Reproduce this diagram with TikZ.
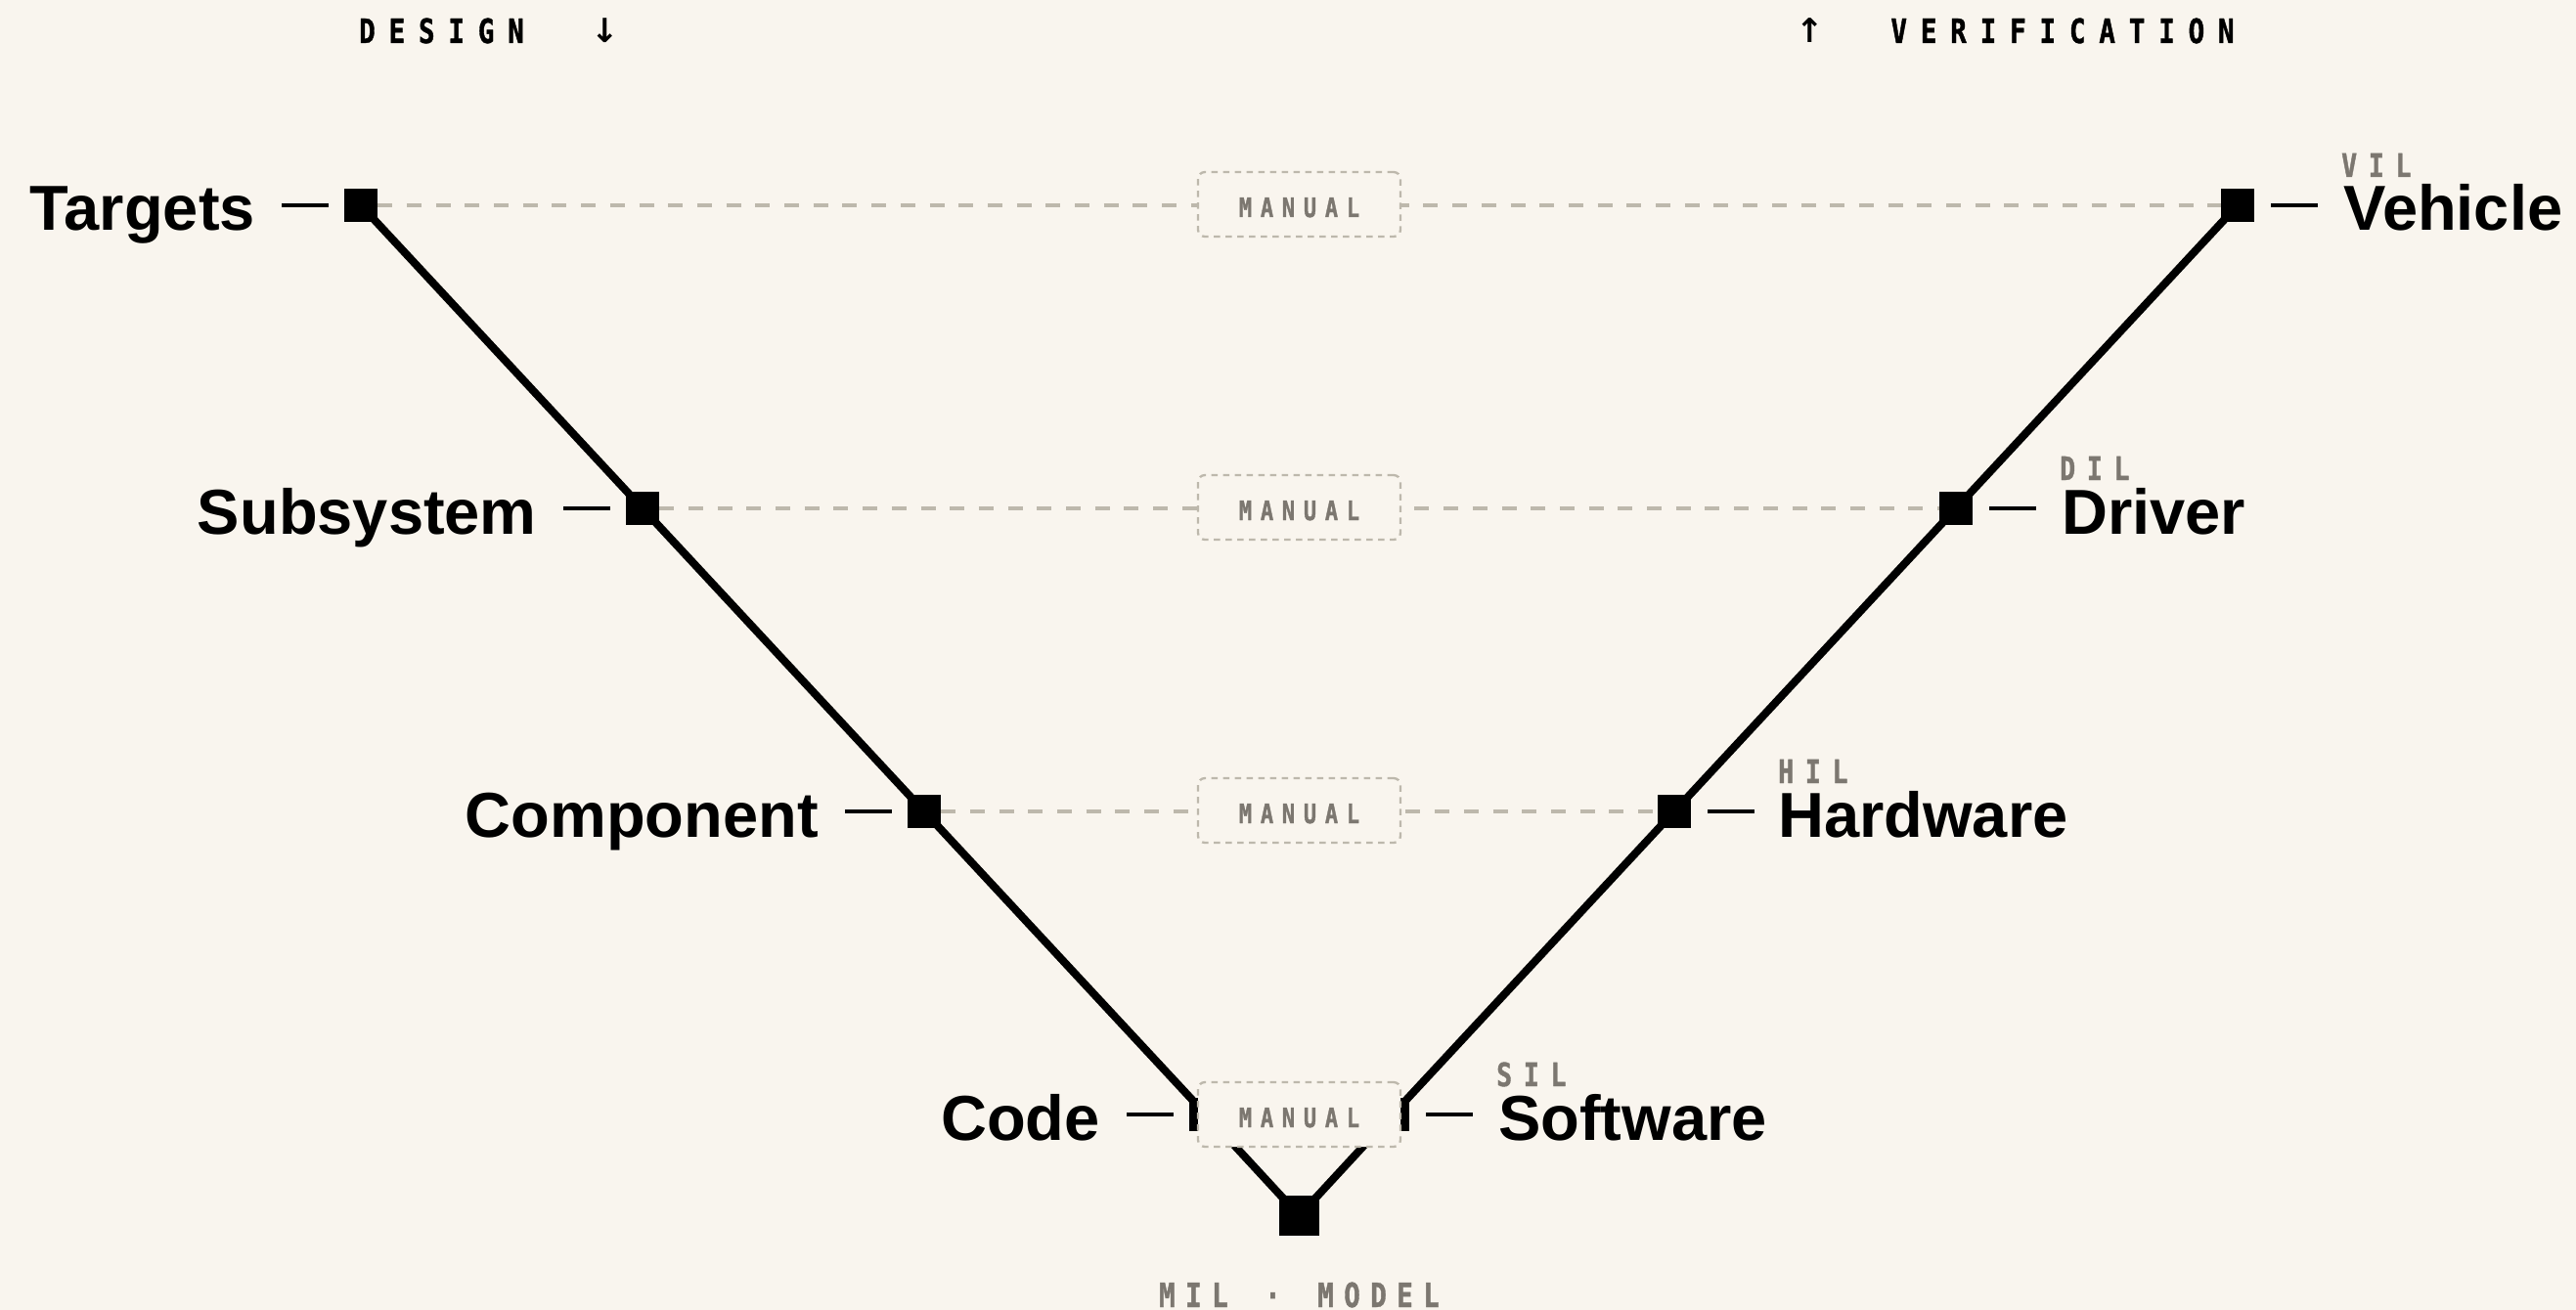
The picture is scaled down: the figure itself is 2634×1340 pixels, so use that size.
\documentclass[tikz,border=0pt]{standalone}
\usepackage{fontspec}
\setmainfont{Liberation Sans}
\newfontfamily\monob[FakeStretch=0.8, BoldFeatures={FakeBold=1.2}]{DejaVu Sans Mono}
\newfontfamily\arrowfont{DejaVu Sans}
\definecolor{bgc}{HTML}{F9F5EE}
\definecolor{dashc}{HTML}{BDB8AC}
\definecolor{tagc}{HTML}{7C7770}
\pgfdeclarelayer{back}
\pgfdeclarelayer{bg}
\pgfsetlayers{back,bg,main}
\makeatletter
\newcommand\trk[2]{\def\trk@k{#1}\trk@loop#2\trk@end}
\def\trk@end{\trk@end}
\def\trk@loop#1{\ifx#1\trk@end\kern-\trk@k\relax\else#1\kern\trk@k\relax\expandafter\trk@loop\fi}
\makeatother
\newcommand\darr{\makebox[16.5pt][c]{\arrowfont\bfseries\fontsize{34}{36}\selectfont ↓}}
\newcommand\uarr{\makebox[16.5pt][c]{\arrowfont\bfseries\fontsize{34}{36}\selectfont ↑}}
\begin{document}
\begin{tikzpicture}[x=1pt,y=-1pt,
  sq/.style={rectangle, fill=black, inner sep=0pt, minimum size=34pt},
  sqbig/.style={sq, minimum size=41pt},
  vline/.style={line width=8pt, black},
  dashline/.style={line width=3.3pt, dashc, dash pattern=on 15pt off 14.7pt},
  tickline/.style={line width=3.3pt, black},
  lbl/.style={inner sep=0pt, font=\fontsize{65}{70}\selectfont\bfseries},
  tagtxt/.style={inner sep=0pt, text=tagc, font=\fontsize{33}{36}\selectfont\monob\bfseries},
  headtxt/.style={inner sep=0pt, font=\fontsize{34.3}{38}\selectfont\monob\bfseries},
  manbox/.style={draw=dashc, fill=bgc, line width=2.3pt, dash pattern=on 6.5pt off 5.5pt,
    rounded corners=7pt, minimum width=207pt, minimum height=66pt, inner sep=0pt,
    text height=26pt, text depth=0pt,
    text=tagc, font=\fontsize{27.4}{30}\selectfont\monob\bfseries}
]
\begin{pgfonlayer}{back}
\fill[bgc] (0,0) rectangle (2634,1340);
\end{pgfonlayer}
\useasboundingbox (0,0) rectangle (2634,1340);

% squares
\node[sq] (t1) at (369,210) {};
\node[sq] (t2) at (657,520) {};
\node[sq] (t3) at (945,830) {};
\node[sq] (t4) at (1233,1140) {};
\node[sqbig] (b) at (1328.5,1243.5) {};
\node[sq] (v4) at (1424,1140) {};
\node[sq] (v3) at (1712,830) {};
\node[sq] (v2) at (2000,520) {};
\node[sq] (v1) at (2288,210) {};

% connectors
\begin{pgfonlayer}{bg}
\draw[vline] (t1.center) -- (t2.center) -- (t3.center) -- (t4.center) -- (b.center)
  -- (v4.center) -- (v3.center) -- (v2.center) -- (v1.center);
\draw[dashline] (t1) -- (v1);
\draw[dashline] (t2) -- (v2);
\draw[dashline] (t3) -- (v3);
\draw[dashline] (t4) -- (v4);
\end{pgfonlayer}

% ticks
\foreach \n in {t1,t2,t3,t4} {\draw[tickline] ([xshift=-16pt]\n.west) -- ++(-48,0);}
\foreach \n in {v1,v2,v3,v4} {\draw[tickline] ([xshift=17pt]\n.east) -- ++(48,0);}

% manual boxes
\node[manbox] (m1) at (1328.5,209) {\trk{8.8pt}{MANUAL}};
\node[manbox] (m2) at (1328.5,519) {\trk{8.8pt}{MANUAL}};
\node[manbox] (m3) at (1328.5,829) {\trk{8.8pt}{MANUAL}};
\node[manbox] (m4) at (1328.5,1140) {\trk{8.8pt}{MANUAL}};

% left labels
\node[lbl, anchor=base east] (lt1) at (261,236) {Targets};
\node[lbl, anchor=base east] (lt2) at (549,546) {Subsystem};
\node[lbl, anchor=base east] (lt3) at (837,856) {Component};
\node[lbl, anchor=base east] (lt4) at (1125,1166) {Code};

% right labels
\node[lbl, anchor=base west] (lv1) at (2396,236) {Vehicle};
\node[lbl, anchor=base west] (lv2) at (2108,546) {Driver};
\node[lbl, anchor=base west] (lv3) at (1818,856) {Hardware};
\node[lbl, anchor=base west] (lv4) at (1532,1166) {Software};

% tags
\node[tagtxt, anchor=base west] (g1) at (2394,181) {\trk{11.8pt}{VIL}};
\node[tagtxt, anchor=base west] (g2) at (2106,491) {\trk{11.8pt}{DIL}};
\node[tagtxt, anchor=base west] (g3) at (1818,801) {\trk{11.8pt}{HIL}};
\node[tagtxt, anchor=base west] (g4) at (1530,1111) {\trk{11.8pt}{SIL}};

% headings
\node[headtxt, anchor=base west] (hd) at (367,44) {\trk{13.9pt}{DESIGN\ \ \darr}};
\node[headtxt, anchor=base west] (hv) at (1842,44) {\trk{13.9pt}{\uarr\ \ VERIFICATION}};
\node[headtxt, text=tagc, anchor=base] (hm) at (1328.5,1337) {\trk{10.5pt}{MIL\ ·\ MODEL}};
\end{tikzpicture}
\end{document}
